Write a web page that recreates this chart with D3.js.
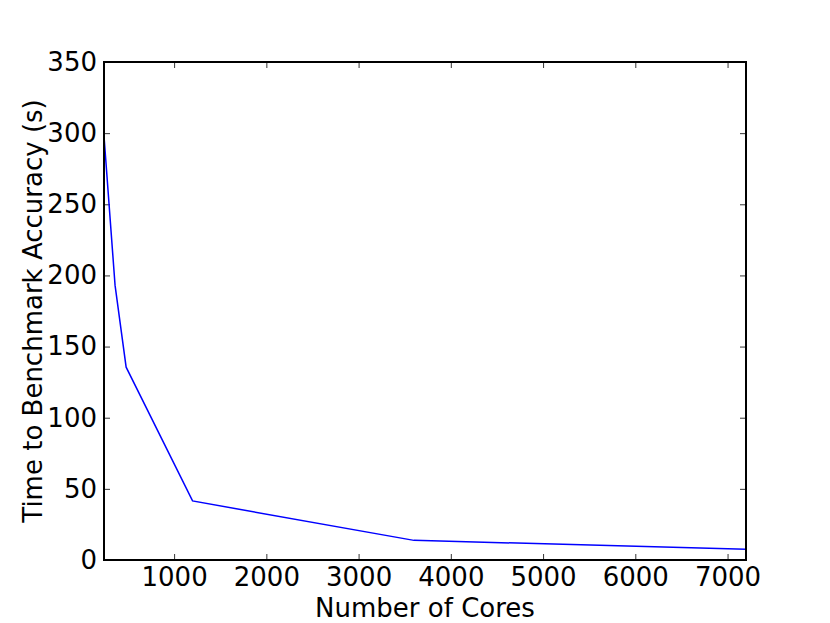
<!DOCTYPE html>
<html>
<head>
<meta charset="utf-8">
<script src="https://cdn.jsdelivr.net/npm/d3@7"></script>
<style>
  body { margin: 0; background: #fff; }
  svg text { font-family: "DejaVu Sans", sans-serif; }
</style>
</head>
<body>
<svg id="chart" width="830" height="623"></svg>
<script>
// cores vs time to reach benchmark accuracy
const cores = [240, 360, 480, 1200, 3600, 7200];
const seconds = [298, 193, 135.5, 41.5, 13.8, 7.6];
const xTicks = [1000, 2000, 3000, 4000, 5000, 6000, 7000];
const yTicks = [0, 50, 100, 150, 200, 250, 300, 350];

const svg = d3.select("#chart");
const margin = { left: 104, right: 84, top: 62, bottom: 63 };
const width = 830 - margin.left - margin.right;
const height = 623 - margin.top - margin.bottom;

const x = d3.scaleLinear().domain([240, 7200]).range([0, width]);
const y = d3.scaleLinear().domain([0, 350]).range([height, 0]);

const g = svg.append("g").attr("transform", `translate(${margin.left},${margin.top})`);

const fontSize = "26px";

// ticks inside on all four sides (matplotlib classic)
function styleAxis(sel) {
    sel.attr("font-family", null).attr("font-size", null);
    sel.select(".domain").remove();
    sel.selectAll(".tick line").attr("stroke", "#000").attr("stroke-width", 0.8);
    sel.selectAll(".tick text").attr("fill", "#000").attr("font-size", fontSize);
}

g.append("g")
  .attr("transform", `translate(0,${height})`)
  .call(d3.axisBottom(x).tickValues(xTicks).tickSizeInner(-6).tickPadding(7.5).tickFormat(d3.format("d")))
  .call(styleAxis);
g.append("g")
  .call(d3.axisTop(x).tickValues(xTicks).tickSizeInner(-6).tickFormat(""))
  .call(styleAxis);
g.append("g")
  .call(d3.axisLeft(y).tickValues(yTicks).tickSizeInner(-6).tickPadding(7).tickFormat(d3.format("d")))
  .call(styleAxis);
g.append("g")
  .attr("transform", `translate(${width},0)`)
  .call(d3.axisRight(y).tickValues(yTicks).tickSizeInner(-6).tickFormat(""))
  .call(styleAxis);

// the line
const line = d3.line()
    .x((d, i) => x(cores[i]))
    .y(d => y(d));

g.append("path")
  .datum(seconds)
  .attr("d", line)
  .attr("fill", "none")
  .attr("stroke", "#0000ff")
  .attr("stroke-width", 1.5);

// frame
g.append("rect")
  .attr("width", width)
  .attr("height", height)
  .attr("fill", "none")
  .attr("stroke", "#000")
  .attr("stroke-width", 2);

// axis labels
svg.append("text")
  .attr("x", margin.left + width / 2)
  .attr("y", 617)
  .attr("text-anchor", "middle")
  .attr("font-size", fontSize)
  .text("Number of Cores");

svg.append("text")
  .attr("transform", `translate(42,${margin.top + height / 2}) rotate(-90)`)
  .attr("text-anchor", "middle")
  .attr("font-size", fontSize)
  .text("Time to Benchmark Accuracy (s)");
</script>
</body>
</html>
